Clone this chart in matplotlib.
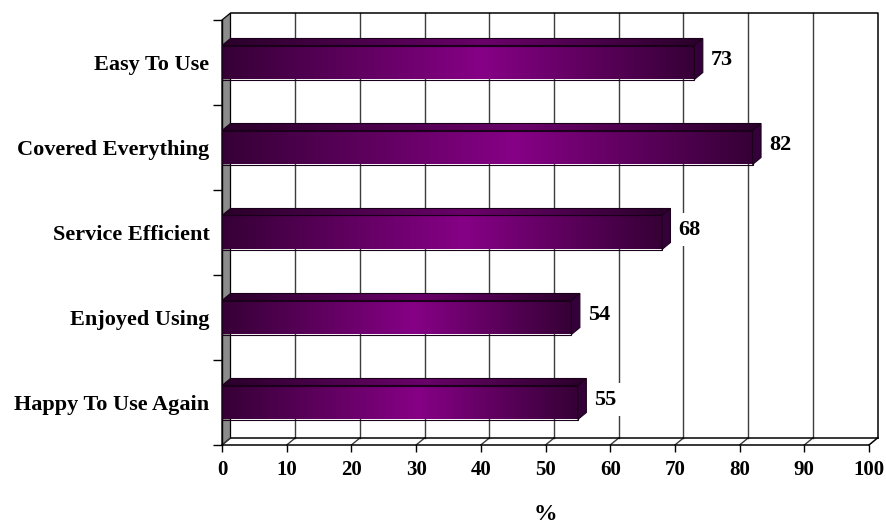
import matplotlib
matplotlib.use("Agg")
import matplotlib.pyplot as plt
import numpy as np
from matplotlib.colors import LinearSegmentedColormap
from matplotlib.patches import Polygon

# ---- data ----
categories = ["Easy To Use", "Covered Everything", "Service Efficient",
              "Enjoyed Using", "Happy To Use Again"]
values = [73, 82, 68, 54, 55]
x_ticks = [0, 10, 20, 30, 40, 50, 60, 70, 80, 90, 100]
x_title = "%"

plt.rcParams["font.family"] = ["Liberation Serif", "DejaVu Serif"]
plt.rcParams["font.weight"] = "bold"

W, H = 886, 524
fig = plt.figure(figsize=(W / 100, H / 100), dpi=100)
# front plane of the 3-D box
ax = fig.add_axes([222 / W, 79 / H, 647 / W, 425 / H])

n = len(categories)
xmin, xmax = x_ticks[0], x_ticks[-1]
ylo, yhi = -0.5, n - 0.5
ax.set_xlim(xmin, xmax)
ax.set_ylim(ylo, yhi)

# depth of the box expressed in data units (8.5 px right, 7 px up)
ax_w_px = 647
ax_h_px = 425
DX = 8.5 * (xmax - xmin) / ax_w_px
DY = 7.0 * (yhi - ylo) / ax_h_px

grid_col = "#3c3c3c"

# left side wall
ax.add_patch(Polygon([(xmin, ylo), (xmin + DX, ylo + DY), (xmin + DX, yhi + DY), (xmin, yhi)],
                     closed=True, facecolor="#8c8c8c", edgecolor="black", lw=0.9,
                     zorder=1, clip_on=False))

# back-wall gridlines and floor gridlines
for xt in x_ticks[1:-1]:
    ax.plot([xt + DX, xt + DX], [ylo + DY, yhi + DY], color=grid_col, lw=1.0, zorder=1,
            clip_on=False)
for xt in x_ticks[:-1]:
    ax.plot([xt, xt + DX], [ylo, ylo + DY], color=grid_col, lw=1.0, zorder=1, clip_on=False)

# back wall border and floor outline
ax.plot([xmin + DX, xmax + DX, xmax + DX], [yhi + DY, yhi + DY, ylo + DY], color="black",
        lw=1.1, zorder=1, clip_on=False)
ax.plot([xmin + DX, xmax + DX], [ylo + DY, ylo + DY], color="black", lw=1.1, zorder=1,
        clip_on=False)
ax.plot([xmax, xmax + DX], [ylo, ylo + DY], color="black", lw=1.1, zorder=1, clip_on=False)

# bar colouring
front_cmap = LinearSegmentedColormap.from_list(
    "front", [(0.0, "#360036"), (0.55, "#860086"), (1.0, "#360036")])
top_cmap = LinearSegmentedColormap.from_list(
    "top", [(0.0, "#2a002a"), (0.55, "#6a006a"), (1.0, "#2a002a")])
grad = np.linspace(0, 1, 512)[None, :]

bar_h = 0.4
for i, (cat, v) in enumerate(zip(categories, values)):
    y = n - 1 - i
    y0, y1 = y - bar_h / 2, y + bar_h / 2

    # front face
    ax.imshow(grad, extent=[0, v, y0, y1], aspect="auto", cmap=front_cmap,
              interpolation="bilinear", zorder=3)
    ax.add_patch(Polygon([(0, y0), (v, y0), (v, y1), (0, y1)], closed=True, fill=False,
                         edgecolor="#1a001a", lw=0.8, zorder=4))

    # top face
    top_poly = Polygon([(0, y1), (v, y1), (v + DX, y1 + DY), (DX, y1 + DY)], closed=True,
                       transform=ax.transData)
    im = ax.imshow(grad, extent=[0, v + DX, y1, y1 + DY], aspect="auto", cmap=top_cmap,
                   interpolation="bilinear", zorder=3)
    im.set_clip_path(top_poly)
    ax.add_patch(Polygon([(0, y1), (v, y1), (v + DX, y1 + DY), (DX, y1 + DY)], closed=True,
                         fill=False, edgecolor="#1a001a", lw=0.8, zorder=4))

    # right end face
    ax.add_patch(Polygon([(v, y0), (v, y1), (v + DX, y1 + DY), (v + DX, y0 + DY)],
                         closed=True, facecolor="#34003a", edgecolor="#1a001a", lw=0.8,
                         zorder=4))

    # value label
    ax.annotate(str(v), xy=(v, y), xytext=(12, 2), textcoords="offset points",
                ha="left", va="center", fontsize=16, fontweight="bold", zorder=5,
                bbox=dict(boxstyle="square,pad=0.3", facecolor="white", edgecolor="none"))

ax.set_xlim(xmin, xmax)
ax.set_ylim(ylo, yhi)

# axes decoration
ax.spines["top"].set_visible(False)
ax.spines["right"].set_visible(False)
ax.spines["left"].set_linewidth(1.0)
ax.spines["bottom"].set_linewidth(1.1)
ax.set_facecolor("none")

ax.set_xticks(x_ticks)
ax.set_xticklabels([str(t) for t in x_ticks])
ax.tick_params(axis="x", direction="out", length=5, width=1, pad=6, labelsize=15)

ax.set_yticks(np.arange(ylo, yhi + 0.01, 1.0))
ax.set_yticklabels([])
ax.tick_params(axis="y", which="major", direction="out", length=6.5, width=1)
ax.set_yticks([n - 1 - i for i in range(n)], minor=True)
ax.set_yticklabels(categories, minor=True, fontsize=16, fontweight="bold")
ax.tick_params(axis="y", which="minor", length=0, pad=9)

ax.set_xlabel(x_title, fontsize=17, fontweight="bold", labelpad=17)

fig.savefig("out.png", dpi=100)
